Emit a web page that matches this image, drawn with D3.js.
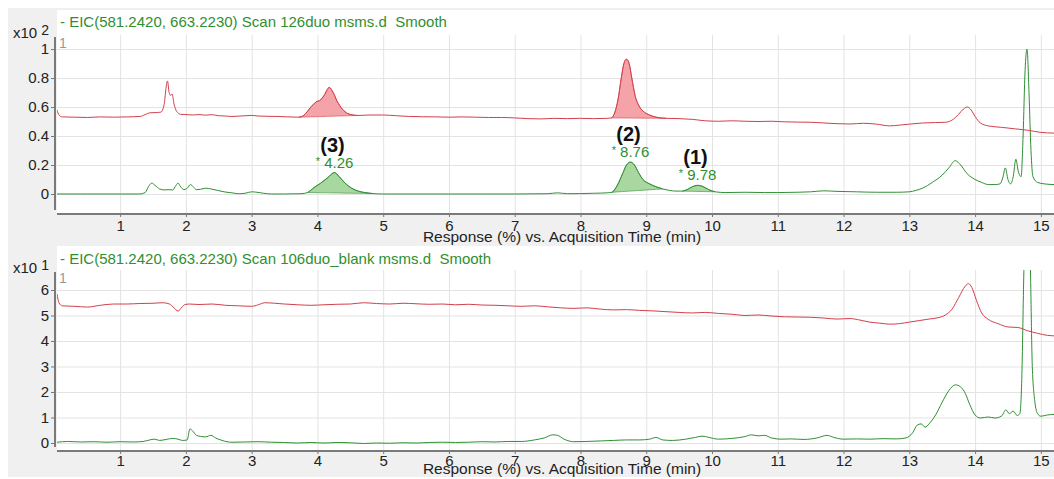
<!DOCTYPE html>
<html>
<head>
<meta charset="utf-8">
<script src="https://cdn.jsdelivr.net/npm/d3@7"></script>
<style>
body { margin: 0; background: #fff; }
text { font-family: "Liberation Sans", Arial, sans-serif; white-space: pre; }
</style>
</head>
<body>
<div id="chart"></div>
<script>
var svgWidth = 1054;
var svgHeight = 479;

// tick values / labels
var xTicks = [1, 2, 3, 4, 5, 6, 7, 8, 9, 10, 11, 12, 13, 14, 15];
var topYTicks = [0, 0.2, 0.4, 0.6, 0.8, 1];
var bottomYTicks = [0, 1, 2, 3, 4, 5, 6];
var titles = ["- EIC(581.2420, 663.2230) Scan 126duo msms.d  Smooth",
              "- EIC(581.2420, 663.2230) Scan 106duo_blank msms.d  Smooth"];
var exponents = ["2", "1"];
var axisTitle = "Response (%) vs. Acquisition Time (min)";

// peak labels (top panel)
var peakNames = ["(3)", "(2)", "(1)"];
var peakTimes = [4.26, 8.76, 9.78];

// shaded peak windows
var redPeaks = [[3.72, 4.62], [8.47, 9.3]];
var greenPeaks = [[3.85, 4.85], [8.48, 9.25], [9.55, 10.05]];

// [time, response]
var topRed = [[0.04,0.58],[0.07,0.545],[0.12,0.532],[0.3,0.53],[0.5,0.528],[0.7,0.532],[0.9,0.53],[1.1,0.532],[1.3,0.535],
  [1.38,0.548],[1.45,0.56],[1.55,0.562],[1.62,0.565],[1.67,0.62],[1.7,0.74],[1.72,0.78],[1.745,0.7],[1.77,0.68],[1.79,0.69],
  [1.82,0.62],[1.86,0.57],[1.92,0.55],[2.0,0.548],[2.1,0.545],[2.2,0.548],[2.3,0.544],[2.4,0.547],[2.5,0.54],[2.6,0.538],
  [2.7,0.535],[2.8,0.537],[2.9,0.54],[3.0,0.542],[3.1,0.538],[3.25,0.536],[3.4,0.535],[3.55,0.532],[3.72,0.53],[3.78,0.538],
  [3.84,0.565],[3.9,0.6],[3.98,0.635],[4.05,0.65],[4.1,0.68],[4.18,0.735],[4.24,0.7],[4.3,0.64],[4.38,0.585],[4.46,0.555],
  [4.54,0.545],[4.62,0.542],[4.8,0.545],[5.0,0.545],[5.2,0.54],[5.4,0.535],[5.6,0.533],[5.8,0.532],[6.0,0.53],[6.2,0.532],
  [6.4,0.53],[6.6,0.528],[6.8,0.528],[7.0,0.525],[7.2,0.52],[7.4,0.518],[7.6,0.522],[7.8,0.52],[8.0,0.522],[8.2,0.52],
  [8.4,0.522],[8.47,0.525],[8.52,0.56],[8.57,0.65],[8.62,0.8],[8.66,0.9],[8.7,0.93],[8.74,0.9],[8.78,0.8],[8.83,0.68],
  [8.9,0.6],[8.97,0.565],[9.05,0.545],[9.15,0.53],[9.3,0.522],[9.5,0.52],[9.7,0.515],[9.9,0.505],[10.1,0.502],[10.3,0.505],
  [10.5,0.502],[10.7,0.5],[10.9,0.502],[11.1,0.498],[11.3,0.496],[11.5,0.495],[11.7,0.49],[11.9,0.485],[12.1,0.483],
  [12.3,0.488],[12.5,0.482],[12.7,0.47],[12.85,0.475],[13.0,0.482],[13.2,0.49],[13.4,0.493],[13.55,0.495],[13.65,0.51],
  [13.75,0.55],[13.82,0.585],[13.88,0.6],[13.94,0.58],[14.0,0.535],[14.08,0.49],[14.2,0.47],[14.4,0.46],[14.6,0.45],
  [14.8,0.44],[15.0,0.425],[15.2,0.42]];

var topGreen = [[0.04,0],[0.5,0],[1.0,0],[1.3,0],[1.38,0.01],[1.43,0.05],[1.48,0.075],[1.53,0.06],[1.6,0.035],[1.67,0.028],
  [1.73,0.03],[1.8,0.028],[1.85,0.06],[1.88,0.075],[1.92,0.05],[1.97,0.03],[2.02,0.04],[2.07,0.065],[2.11,0.05],[2.16,0.03],
  [2.22,0.032],[2.3,0.04],[2.38,0.035],[2.48,0.025],[2.58,0.015],[2.7,0.008],[2.8,0.002],[2.9,0.005],[3.0,0.015],[3.08,0.012],
  [3.18,0.005],[3.3,0],[3.5,0],[3.75,0.002],[3.85,0.01],[3.95,0.045],[4.05,0.075],[4.15,0.11],[4.26,0.148],[4.33,0.12],
  [4.42,0.075],[4.52,0.04],[4.62,0.02],[4.72,0.01],[4.85,0.003],[5.0,0],[5.5,0],[6.0,0],[6.5,0],[7.0,0],[7.5,0.002],
  [7.65,0.008],[7.8,0.002],[8.0,0.003],[8.2,0.005],[8.4,0.008],[8.48,0.012],[8.56,0.06],[8.64,0.14],[8.7,0.2],[8.76,0.22],
  [8.82,0.2],[8.88,0.15],[8.95,0.1],[9.05,0.07],[9.15,0.05],[9.25,0.035],[9.35,0.025],[9.45,0.02],[9.55,0.02],[9.62,0.03],
  [9.7,0.05],[9.78,0.06],[9.86,0.052],[9.95,0.03],[10.05,0.015],[10.2,0.01],[10.5,0.012],[10.8,0.01],[11.0,0.01],
  [11.3,0.012],[11.5,0.015],[11.7,0.022],[11.9,0.018],[12.2,0.015],[12.5,0.012],[12.8,0.012],[13.0,0.015],[13.1,0.025],
  [13.2,0.04],[13.35,0.08],[13.5,0.13],[13.6,0.18],[13.7,0.23],[13.78,0.2],[13.88,0.14],[14.0,0.1],[14.1,0.08],[14.2,0.065],
  [14.3,0.065],[14.38,0.07],[14.42,0.11],[14.46,0.18],[14.5,0.1],[14.54,0.07],[14.58,0.12],[14.62,0.24],[14.66,0.15],
  [14.7,0.12],[14.73,0.4],[14.76,0.85],[14.79,1.0],[14.82,0.7],[14.85,0.3],[14.88,0.12],[14.95,0.08],[15.05,0.07],[15.2,0.065]];

var bottomRed = [[0.04,5.85],[0.07,5.5],[0.12,5.38],[0.3,5.36],[0.5,5.33],[0.7,5.4],[0.9,5.45],[1.1,5.45],[1.3,5.47],
  [1.5,5.48],[1.65,5.5],[1.75,5.45],[1.82,5.3],[1.88,5.17],[1.93,5.3],[1.98,5.42],[2.05,5.45],[2.2,5.43],[2.4,5.45],
  [2.6,5.4],[2.8,5.38],[3.0,5.36],[3.1,5.42],[3.2,5.5],[3.35,5.48],[3.5,5.45],[3.7,5.42],[3.9,5.4],[4.1,5.42],[4.3,5.44],
  [4.5,5.45],[4.7,5.5],[4.9,5.47],[5.1,5.45],[5.3,5.48],[5.5,5.46],[5.7,5.44],[5.9,5.45],[6.1,5.42],[6.3,5.44],[6.5,5.41],
  [6.7,5.4],[6.9,5.38],[7.1,5.36],[7.3,5.38],[7.5,5.34],[7.7,5.3],[7.9,5.28],[8.1,5.3],[8.3,5.25],[8.5,5.22],[8.7,5.23],
  [8.9,5.2],[9.1,5.18],[9.3,5.15],[9.5,5.12],[9.7,5.1],[9.9,5.12],[10.1,5.08],[10.3,5.05],[10.5,5.0],[10.7,5.02],
  [10.9,4.98],[11.1,4.95],[11.3,4.94],[11.5,4.93],[11.7,4.9],[11.9,4.86],[12.1,4.88],[12.25,4.82],[12.4,4.74],[12.55,4.7],
  [12.7,4.66],[12.85,4.68],[13.0,4.74],[13.15,4.8],[13.3,4.86],[13.45,4.92],[13.55,5.02],[13.65,5.25],[13.75,5.7],
  [13.85,6.15],[13.9,6.25],[13.95,6.1],[14.02,5.6],[14.1,5.1],[14.2,4.85],[14.35,4.68],[14.5,4.55],[14.65,4.53],
  [14.8,4.4],[14.95,4.3],[15.1,4.22],[15.2,4.2]];

var bottomGreen = [[0.04,0.03],[0.2,0.06],[0.4,0.04],[0.6,0.05],[0.8,0.03],[1.0,0.05],[1.2,0.04],[1.35,0.06],[1.45,0.12],
  [1.52,0.15],[1.6,0.1],[1.7,0.14],[1.8,0.18],[1.88,0.15],[1.95,0.1],[2.02,0.12],[2.06,0.55],[2.1,0.48],[2.16,0.3],
  [2.22,0.26],[2.3,0.24],[2.38,0.3],[2.45,0.2],[2.55,0.1],[2.7,0.03],[2.9,0.04],[3.1,0.05],[3.3,0.03],[3.5,0.02],[3.7,0],
  [3.9,0.02],[4.1,0],[4.3,0.02],[4.5,0.01],[4.7,-0.02],[4.9,0],[5.1,-0.01],[5.3,0.01],[5.5,0],[5.7,0.02],[5.9,0.03],
  [6.1,0.02],[6.3,0.03],[6.5,0.05],[6.7,0.04],[6.9,0.06],[7.1,0.06],[7.3,0.12],[7.45,0.2],[7.58,0.32],[7.65,0.3],
  [7.75,0.15],[7.9,0.05],[8.1,0.06],[8.3,0.08],[8.5,0.1],[8.7,0.12],[8.9,0.12],[9.05,0.15],[9.15,0.22],[9.25,0.12],
  [9.4,0.1],[9.6,0.15],[9.75,0.22],[9.85,0.27],[9.95,0.22],[10.1,0.15],[10.3,0.18],[10.5,0.25],[10.6,0.32],[10.7,0.28],
  [10.8,0.3],[10.9,0.2],[11.05,0.15],[11.2,0.16],[11.4,0.14],[11.6,0.2],[11.75,0.3],[11.85,0.22],[12.0,0.15],[12.2,0.16],
  [12.4,0.15],[12.6,0.17],[12.8,0.16],[12.95,0.2],[13.05,0.4],[13.12,0.7],[13.18,0.75],[13.24,0.62],[13.3,0.75],[13.4,1.1],
  [13.5,1.6],[13.6,2.05],[13.7,2.28],[13.78,2.2],[13.85,1.95],[13.92,1.5],[14.0,1.1],[14.08,0.98],[14.2,1.02],[14.3,0.98],
  [14.4,1.05],[14.47,1.3],[14.52,1.15],[14.58,1.25],[14.64,1.08],[14.68,1.15],[14.71,2.5],[14.74,6.5],[14.77,9.5],
  [14.8,10],[14.84,7],[14.87,3],[14.91,1.6],[14.95,1.15],[15.0,1.05],[15.1,1.1],[15.2,1.12]];

var redColor = "#d23f4c";
var greenColor = "#2f8f34";
var fontFam = "Liberation Sans, Arial, sans-serif";

var svg = d3.select("#chart")
    .append("svg")
    .attr("width", svgWidth)
    .attr("height", svgHeight);

// grey window background
svg.append("rect")
    .attr("x", 8).attr("y", 8)
    .attr("width", svgWidth - 8).attr("height", svgHeight - 10)
    .attr("fill", "#f0f0f0");

var x = d3.scaleLinear()
    .domain([0.04, 15.2])
    .range([57, 1054]);

var panels = [
    { top: 10, plotTop: 35, axisY: 214, domain: [-0.138, 1.097], yTicks: topYTicks,
      red: topRed, green: topGreen, tickY: 18, titleY: 27, expY: 38, axisTitleY: 242 },
    { top: 246, plotTop: 270, axisY: 451, domain: [-0.314, 6.784], yTicks: bottomYTicks,
      red: bottomRed, green: bottomGreen, tickY: 16, titleY: 264, expY: 273, axisTitleY: 474 }
];

panels.forEach(function(p, i) {
    var g = svg.append("g");

    var y = d3.scaleLinear()
        .domain(p.domain)
        .range([p.axisY, p.plotTop]);

    // white title strip + plot area
    g.append("rect")
        .attr("x", 57).attr("y", p.top)
        .attr("width", svgWidth - 57).attr("height", p.axisY - p.top)
        .attr("fill", "#fff");

    g.append("text")
        .attr("x", 60).attr("y", p.titleY)
        .attr("fill", "#2f8f2f")
        .attr("font-size", 15)
        .text(titles[i]);

    // gridlines
    g.append("g")
        .attr("transform", `translate(0, ${p.axisY})`)
        .call(d3.axisBottom(x).tickValues(xTicks).tickSize(-(p.axisY - p.plotTop)).tickFormat(""))
        .call(s => s.select(".domain").remove())
        .selectAll("line").attr("stroke", "#e3e3e3");

    g.append("g")
        .attr("transform", "translate(57, 0)")
        .call(d3.axisLeft(y).tickValues(p.yTicks).tickSize(-(svgWidth - 57)).tickFormat(""))
        .call(s => s.select(".domain").remove())
        .selectAll("line").attr("stroke", "#e3e3e3");

    var clipId = "clip" + i;
    g.append("clipPath").attr("id", clipId)
        .append("rect")
        .attr("x", 57).attr("y", p.plotTop)
        .attr("width", svgWidth - 57).attr("height", p.axisY - p.plotTop - 1);

    var plot = g.append("g").attr("clip-path", `url(#${clipId})`);

    var line = d3.line()
        .x(d => x(d[0]))
        .y(d => y(d[1]))
        .curve(d3.curveMonotoneX);

    // shaded integrated peaks (top panel only)
    function peakArea(series, range) {
        var inside = series.filter(d => d[0] >= range[0] && d[0] <= range[1]);
        var a = inside[0], b = inside[inside.length - 1];
        var base = d3.scaleLinear().domain([a[0], b[0]]).range([a[1], b[1]]);
        return d3.area()
            .x(d => x(d[0]))
            .y0(d => y(base(d[0])))
            .y1(d => y(d[1]))
            .curve(d3.curveMonotoneX)(inside);
    }

    if (i == 0) {
        greenPeaks.forEach(function(r) {
            plot.append("path").attr("d", peakArea(p.green, r))
                .attr("fill", "#a8d7a0").attr("stroke", greenColor).attr("stroke-width", 0.6);
        });
        redPeaks.forEach(function(r) {
            plot.append("path").attr("d", peakArea(p.red, r))
                .attr("fill", "#f4a3a8").attr("stroke", redColor).attr("stroke-width", 0.6);
        });
    }

    plot.append("path")
        .datum(p.green)
        .attr("d", line)
        .attr("fill", "none")
        .attr("stroke", greenColor)
        .attr("stroke-width", 1);

    plot.append("path")
        .datum(p.red)
        .attr("d", line)
        .attr("fill", "none")
        .attr("stroke", redColor)
        .attr("stroke-width", 1);

    // little grey "1" in the corner
    g.append("text")
        .attr("x", 59).attr("y", p.plotTop + 13)
        .attr("fill", "#999")
        .attr("font-size", 14)
        .text("1");

    // axes
    var bottomAxis = g.append("g")
        .attr("transform", `translate(0, ${p.axisY})`)
        .call(d3.axisBottom(x).tickValues(xTicks).tickSize(3).tickPadding(p.tickY - 15));
    bottomAxis.select(".domain").remove();
    bottomAxis.selectAll("line").attr("stroke", "#777");
    bottomAxis.selectAll("text").attr("font-size", 15).attr("fill", "#222")
        .attr("font-family", fontFam);

    g.append("line")
        .attr("x1", 57).attr("x2", svgWidth)
        .attr("y1", p.axisY).attr("y2", p.axisY)
        .attr("stroke", "#7a7a7a").attr("stroke-width", 2);

    var leftAxis = g.append("g")
        .attr("transform", "translate(55, 0)")
        .call(d3.axisLeft(y).tickValues(p.yTicks).tickSize(4).tickPadding(2).tickFormat(d => String(d)));
    leftAxis.select(".domain").remove();
    leftAxis.selectAll("line").attr("stroke", "#777");
    leftAxis.selectAll("text").attr("font-size", 15).attr("fill", "#222")
        .attr("font-family", fontFam);

    g.append("line")
        .attr("x1", 55).attr("x2", 55)
        .attr("y1", p.plotTop + 2).attr("y2", p.axisY - 4)
        .attr("stroke", "#7a7a7a").attr("stroke-width", 2);

    // x10^n
    var ex = g.append("text")
        .attr("x", 13).attr("y", p.expY)
        .attr("font-size", 15)
        .attr("fill", "#222");
    ex.append("tspan").text("x10 ");
    ex.append("tspan").attr("dy", -3).attr("font-size", 14).text(exponents[i]);

    g.append("text")
        .attr("x", 562).attr("y", p.axisTitleY)
        .attr("text-anchor", "middle")
        .attr("font-size", 15.5)
        .attr("fill", "#222")
        .text(axisTitle);

    // peak annotations
    if (i == 0) {
        peakTimes.forEach(function(t, k) {
            var apex = d3.max(p.green.filter(d => Math.abs(d[0] - t) < 0.05), d => d[1]);
            var ay = y(apex);
            g.append("text")
                .attr("x", x(t) - 2).attr("y", ay - 21)
                .attr("text-anchor", "middle")
                .attr("font-size", 20)
                .attr("font-weight", "bold")
                .attr("fill", "#111")
                .text(peakNames[k]);
            var lab = g.append("text")
                .attr("x", x(t)).attr("y", ay - 5)
                .attr("text-anchor", "middle")
                .attr("font-size", 15)
                .attr("fill", "#2f8f2f");
            lab.append("tspan").attr("font-size", 11).attr("dy", -3).text("*");
            lab.append("tspan").attr("dy", 3).text(" " + t.toFixed(2));
        });
    }
});
</script>
</body>
</html>
